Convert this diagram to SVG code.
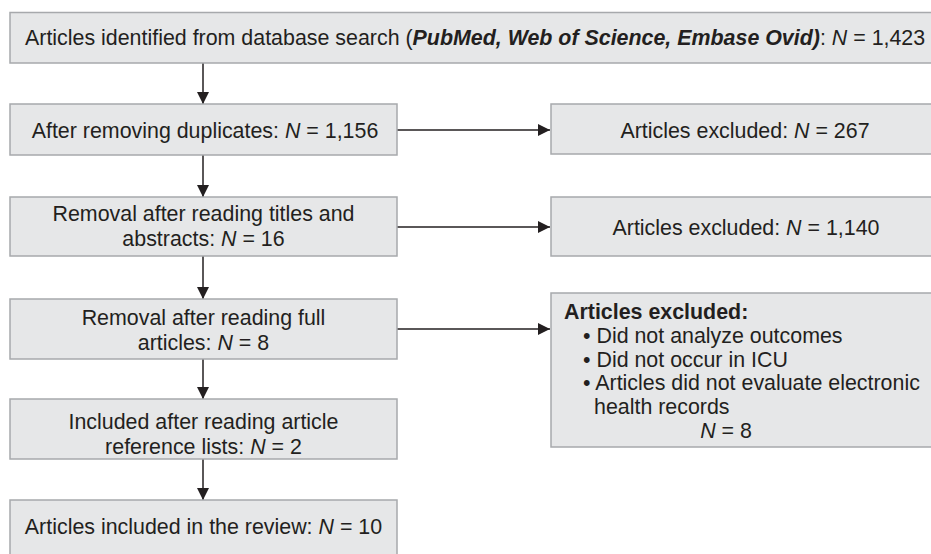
<svg xmlns="http://www.w3.org/2000/svg" width="931" height="554" viewBox="0 0 931 554">
  <style>
    .box { fill: #e6e7e8; stroke: #a7a9ac; stroke-width: 1.5; }
    text { font-family: "Liberation Sans", Arial, sans-serif; font-size: 21.4px; fill: #231f20; }
    .c { text-anchor: middle; }
    .line { stroke: #231f20; stroke-width: 1.5; fill: none; }
  </style>
  <defs>
    <marker id="arrow" viewBox="0 0 12 12" refX="12" refY="6" markerWidth="12" markerHeight="12" markerUnits="userSpaceOnUse" orient="auto">
      <path d="M0,0 L12,6 L0,12 Z" fill="#231f20"/>
    </marker>
  </defs>

  <g id="connectors">
    <line class="line" x1="203" y1="63" x2="203" y2="104" marker-end="url(#arrow)"/>
    <line class="line" x1="203" y1="155" x2="203" y2="197" marker-end="url(#arrow)"/>
    <line class="line" x1="203" y1="256" x2="203" y2="299" marker-end="url(#arrow)"/>
    <line class="line" x1="203" y1="359" x2="203" y2="399" marker-end="url(#arrow)"/>
    <line class="line" x1="203" y1="459" x2="203" y2="500" marker-end="url(#arrow)"/>
    <line class="line" x1="397" y1="130" x2="550" y2="130" marker-end="url(#arrow)"/>
    <line class="line" x1="397" y1="227" x2="550" y2="227" marker-end="url(#arrow)"/>
    <line class="line" x1="397" y1="329" x2="550" y2="329" marker-end="url(#arrow)"/>
  </g>

  <g id="identified">
    <rect class="box" x="10" y="12.5" width="930" height="50.5"/>
    <text x="25" y="44.5">Articles identified from database search (<tspan font-weight="bold" font-style="italic">PubMed, Web of Science, Embase Ovid)</tspan>: <tspan font-style="italic">N</tspan> = 1,423</text>
  </g>

  <g id="deduplicated">
    <rect class="box" x="10" y="104" width="387" height="51"/>
    <text class="c" x="205" y="137.5">After removing duplicates: <tspan font-style="italic">N</tspan> = 1,156</text>
  </g>

  <g id="excluded-duplicates">
    <rect class="box" x="551" y="104" width="390" height="50"/>
    <text class="c" x="745" y="137.5">Articles excluded: <tspan font-style="italic">N</tspan> = 267</text>
  </g>

  <g id="screened">
    <rect class="box" x="10" y="197" width="387" height="59"/>
    <text class="c" x="203.5" y="221">Removal after reading titles and</text>
    <text class="c" x="203.5" y="246">abstracts: <tspan font-style="italic">N</tspan> = 16</text>
  </g>

  <g id="excluded-screening">
    <rect class="box" x="551" y="197" width="390" height="59"/>
    <text class="c" x="746" y="234.5">Articles excluded: <tspan font-style="italic">N</tspan> = 1,140</text>
  </g>

  <g id="full-text">
    <rect class="box" x="10" y="299" width="387" height="60"/>
    <text class="c" x="203.5" y="325">Removal after reading full</text>
    <text class="c" x="203.5" y="350">articles: <tspan font-style="italic">N</tspan> = 8</text>
  </g>

  <g id="excluded-full-text">
    <rect class="box" x="551" y="293" width="390" height="154"/>
    <text x="564" y="319" font-weight="bold">Articles excluded:</text>
    <text x="583" y="343">• Did not analyze outcomes</text>
    <text x="583" y="366.5">• Did not occur in ICU</text>
    <text x="583" y="390">• Articles did not evaluate electronic</text>
    <text x="594" y="413.5">health records</text>
    <text class="c" x="726" y="438"><tspan font-style="italic">N</tspan> = 8</text>
  </g>

  <g id="references">
    <rect class="box" x="10" y="399" width="387" height="60"/>
    <text class="c" x="203.5" y="428.5">Included after reading article</text>
    <text class="c" x="203.5" y="453.5">reference lists: <tspan font-style="italic">N</tspan> = 2</text>
  </g>

  <g id="included">
    <rect class="box" x="10" y="500" width="387" height="60"/>
    <text class="c" x="203.5" y="534">Articles included in the review: <tspan font-style="italic">N</tspan> = 10</text>
  </g>
</svg>
